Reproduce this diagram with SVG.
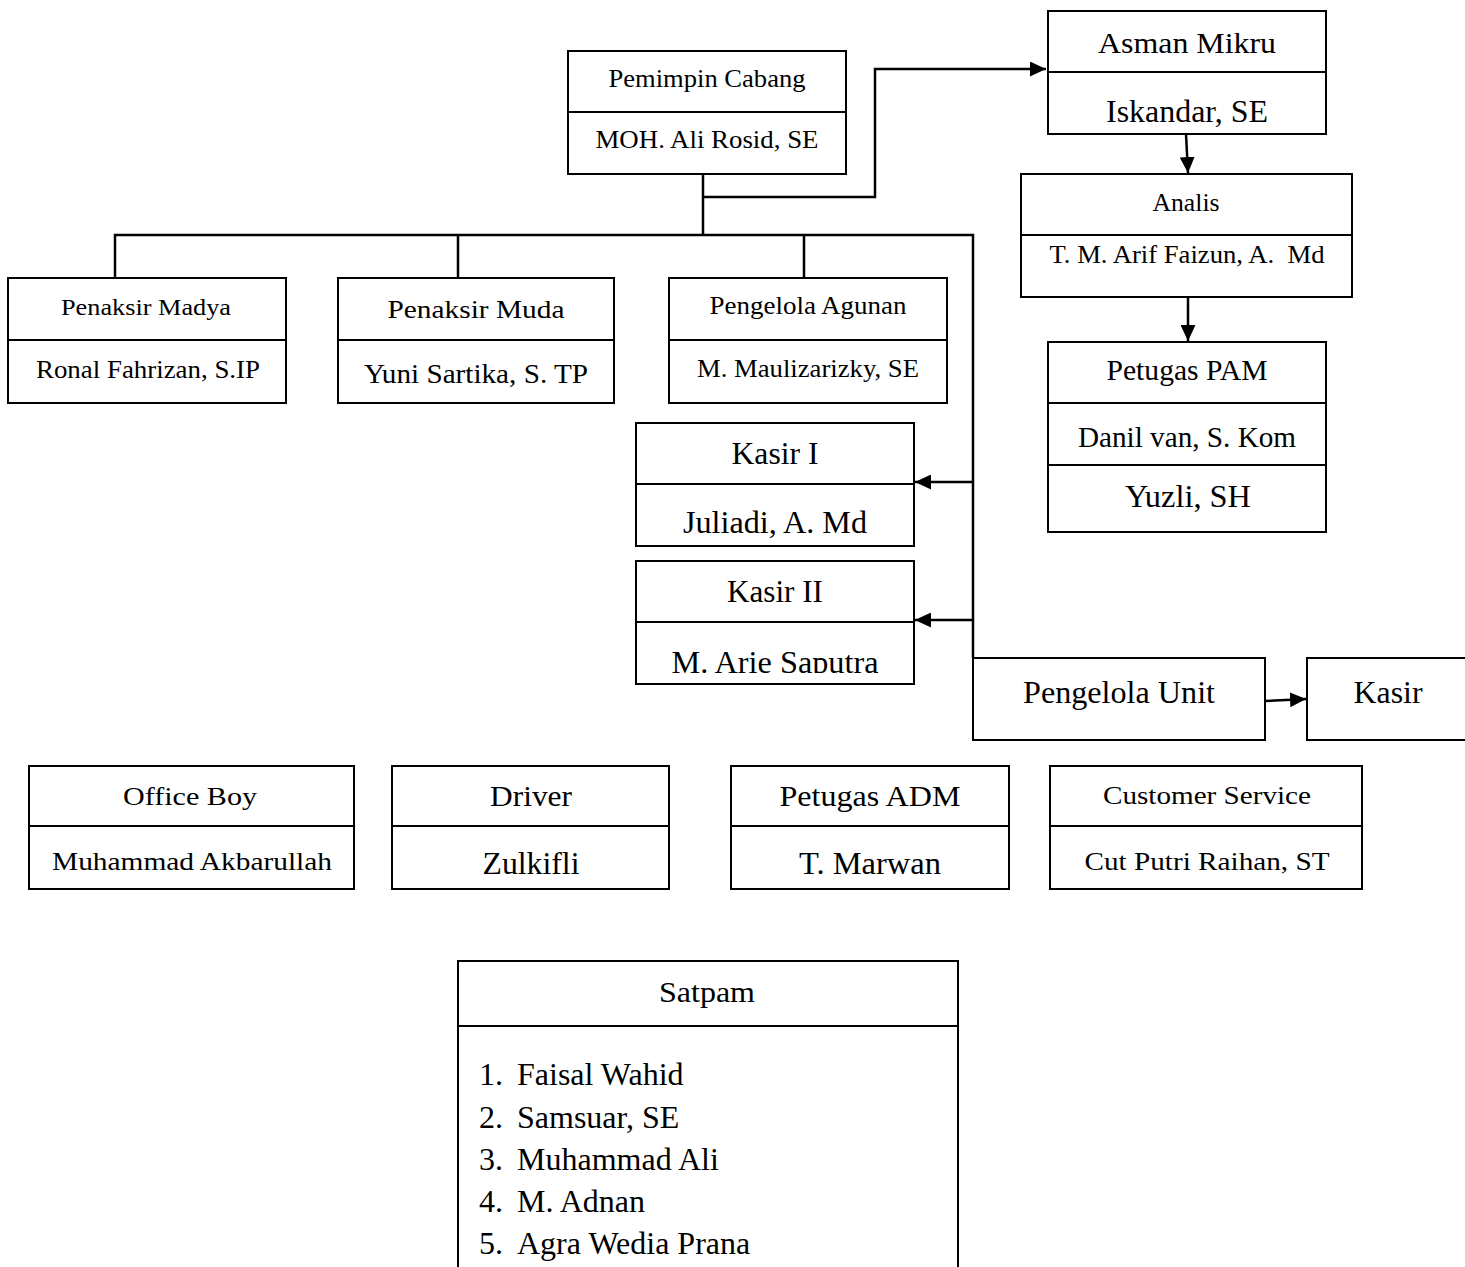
<svg xmlns="http://www.w3.org/2000/svg" width="1465" height="1267" viewBox="0 0 1465 1267">
<style>
.box{fill:#fff;stroke:#000;stroke-width:2}
.div{stroke:#000;stroke-width:2}
.t{font-family:"Liberation Serif","Times New Roman",serif;fill:#000;text-anchor:middle}
.l{font-family:"Liberation Serif","Times New Roman",serif;fill:#000;font-size:32px}
.c{fill:none;stroke:#000;stroke-width:2.5}
</style>
<defs>
<marker id="ah" viewBox="0 0 16 15" refX="16" refY="7.5" markerWidth="16" markerHeight="15" markerUnits="userSpaceOnUse" orient="auto">
<path d="M0,0 L16,7.5 L0,15 z" fill="#000"/>
</marker>
<clipPath id="clipArie"><rect x="636" y="622" width="278" height="51"/></clipPath>
</defs>
<rect width="1465" height="1267" fill="#fff"/>

<g id="connectors">
<path class="c" d="M703,174 V235"/>
<path class="c" d="M703,197 H875 V69 H1046" marker-end="url(#ah)"/>
<path class="c" d="M115,278 V235 H973 V658"/>
<path class="c" d="M458,235 V278"/>
<path class="c" d="M804,235 V278"/>
<path class="c" d="M973,482 H915" marker-end="url(#ah)"/>
<path class="c" d="M973,620 H915" marker-end="url(#ah)"/>
<path class="c" d="M1265,701 L1306,699" marker-end="url(#ah)"/>
<path class="c" d="M1186,134 L1188,173" marker-end="url(#ah)"/>
<path class="c" d="M1188,297 V341" marker-end="url(#ah)"/>
</g>

<g id="pemimpin">
<rect class="box" x="568" y="51" width="278" height="123"/>
<line class="div" x1="568" y1="112" x2="846" y2="112"/>
<text class="t" x="707" y="87" font-size="26" textLength="197" lengthAdjust="spacingAndGlyphs">Pemimpin Cabang</text>
<text class="t" x="707" y="148" font-size="26" textLength="223" lengthAdjust="spacingAndGlyphs">MOH. Ali Rosid, SE</text>
</g>

<g id="asman">
<rect class="box" x="1048" y="11" width="278" height="123"/>
<line class="div" x1="1048" y1="72" x2="1326" y2="72"/>
<text class="t" x="1187" y="53" font-size="30" textLength="178" lengthAdjust="spacingAndGlyphs">Asman Mikru</text>
<text class="t" x="1187" y="122" font-size="31" textLength="162" lengthAdjust="spacingAndGlyphs">Iskandar, SE</text>
</g>

<g id="analis">
<rect class="box" x="1021" y="174" width="331" height="123"/>
<line class="div" x1="1021" y1="235" x2="1352" y2="235"/>
<text class="t" x="1186" y="211" font-size="25" textLength="67" lengthAdjust="spacingAndGlyphs">Analis</text>
<text class="t" x="1187" y="263" font-size="25" textLength="275" lengthAdjust="spacingAndGlyphs" xml:space="preserve">T. M. Arif Faizun, A.  Md</text>
</g>

<g id="petugas-pam">
<rect class="box" x="1048" y="342" width="278" height="190"/>
<line class="div" x1="1048" y1="403" x2="1326" y2="403"/>
<line class="div" x1="1048" y1="465" x2="1326" y2="465"/>
<text class="t" x="1187" y="380" font-size="30" textLength="161" lengthAdjust="spacingAndGlyphs">Petugas PAM</text>
<text class="t" x="1187" y="447" font-size="30" textLength="218" lengthAdjust="spacingAndGlyphs">Danil van, S. Kom</text>
<text class="t" x="1188" y="507" font-size="31" textLength="126" lengthAdjust="spacingAndGlyphs">Yuzli, SH</text>
</g>

<g id="penaksir-madya">
<rect class="box" x="8" y="278" width="278" height="125"/>
<line class="div" x1="8" y1="340" x2="286" y2="340"/>
<text class="t" x="146" y="315" font-size="24" textLength="170" lengthAdjust="spacingAndGlyphs">Penaksir Madya</text>
<text class="t" x="148" y="378" font-size="25" textLength="224" lengthAdjust="spacingAndGlyphs">Ronal Fahrizan, S.IP</text>
</g>

<g id="penaksir-muda">
<rect class="box" x="338" y="278" width="276" height="125"/>
<line class="div" x1="338" y1="340" x2="614" y2="340"/>
<text class="t" x="476" y="318" font-size="25" textLength="177" lengthAdjust="spacingAndGlyphs">Penaksir Muda</text>
<text class="t" x="476" y="383" font-size="27" textLength="224" lengthAdjust="spacingAndGlyphs">Yuni Sartika, S. TP</text>
</g>

<g id="pengelola-agunan">
<rect class="box" x="669" y="278" width="278" height="125"/>
<line class="div" x1="669" y1="340" x2="947" y2="340"/>
<text class="t" x="808" y="314" font-size="26" textLength="197" lengthAdjust="spacingAndGlyphs">Pengelola Agunan</text>
<text class="t" x="808" y="377" font-size="26" textLength="222" lengthAdjust="spacingAndGlyphs">M. Maulizarizky, SE</text>
</g>

<g id="kasir-1">
<rect class="box" x="636" y="423" width="278" height="123"/>
<line class="div" x1="636" y1="484" x2="914" y2="484"/>
<text class="t" x="775" y="464" font-size="31" textLength="87" lengthAdjust="spacingAndGlyphs">Kasir I</text>
<text class="t" x="775" y="533" font-size="32" textLength="184" lengthAdjust="spacingAndGlyphs">Juliadi, A. Md</text>
</g>

<g id="kasir-2">
<rect class="box" x="636" y="561" width="278" height="123"/>
<line class="div" x1="636" y1="622" x2="914" y2="622"/>
<text class="t" x="775" y="602" font-size="31" textLength="96" lengthAdjust="spacingAndGlyphs">Kasir II</text>
<text class="t" x="775" y="673" font-size="32" textLength="207" lengthAdjust="spacingAndGlyphs" clip-path="url(#clipArie)">M. Arie Saputra</text>
</g>

<g id="pengelola-unit">
<rect class="box" x="973" y="658" width="292" height="82"/>
<text class="t" x="1119" y="703" font-size="32" textLength="192" lengthAdjust="spacingAndGlyphs">Pengelola Unit</text>
</g>

<g id="kasir">
<rect class="box" x="1307" y="658" width="170" height="82"/>
<text class="t" x="1388" y="703" font-size="32" textLength="69" lengthAdjust="spacingAndGlyphs">Kasir</text>
</g>

<g id="office-boy">
<rect class="box" x="29" y="766" width="325" height="123"/>
<line class="div" x1="29" y1="826" x2="354" y2="826"/>
<text class="t" x="190" y="805" font-size="26" textLength="134" lengthAdjust="spacingAndGlyphs">Office Boy</text>
<text class="t" x="192" y="870" font-size="26" textLength="280" lengthAdjust="spacingAndGlyphs">Muhammad Akbarullah</text>
</g>

<g id="driver">
<rect class="box" x="392" y="766" width="277" height="123"/>
<line class="div" x1="392" y1="826" x2="669" y2="826"/>
<text class="t" x="531" y="806" font-size="29" textLength="82" lengthAdjust="spacingAndGlyphs">Driver</text>
<text class="t" x="531" y="874" font-size="31" textLength="97" lengthAdjust="spacingAndGlyphs">Zulkifli</text>
</g>

<g id="petugas-adm">
<rect class="box" x="731" y="766" width="278" height="123"/>
<line class="div" x1="731" y1="826" x2="1009" y2="826"/>
<text class="t" x="870" y="806" font-size="29" textLength="181" lengthAdjust="spacingAndGlyphs">Petugas ADM</text>
<text class="t" x="870" y="874" font-size="31" textLength="142" lengthAdjust="spacingAndGlyphs">T. Marwan</text>
</g>

<g id="customer-service">
<rect class="box" x="1050" y="766" width="312" height="123"/>
<line class="div" x1="1050" y1="826" x2="1362" y2="826"/>
<text class="t" x="1207" y="804" font-size="25" textLength="208" lengthAdjust="spacingAndGlyphs">Customer Service</text>
<text class="t" x="1207" y="870" font-size="25" textLength="245" lengthAdjust="spacingAndGlyphs">Cut Putri Raihan, ST</text>
</g>

<g id="satpam">
<rect class="box" x="458" y="961" width="500" height="330"/>
<line class="div" x1="458" y1="1026" x2="958" y2="1026"/>
<text class="t" x="707" y="1002" font-size="30" textLength="96" lengthAdjust="spacingAndGlyphs">Satpam</text>
<text class="l" x="479" y="1085">1.</text><text class="l" x="517" y="1085">Faisal Wahid</text>
<text class="l" x="479" y="1128">2.</text><text class="l" x="517" y="1128">Samsuar, SE</text>
<text class="l" x="479" y="1170">3.</text><text class="l" x="517" y="1170">Muhammad Ali</text>
<text class="l" x="479" y="1212">4.</text><text class="l" x="517" y="1212">M. Adnan</text>
<text class="l" x="479" y="1254">5.</text><text class="l" x="517" y="1254">Agra Wedia Prana</text>
</g>
</svg>
